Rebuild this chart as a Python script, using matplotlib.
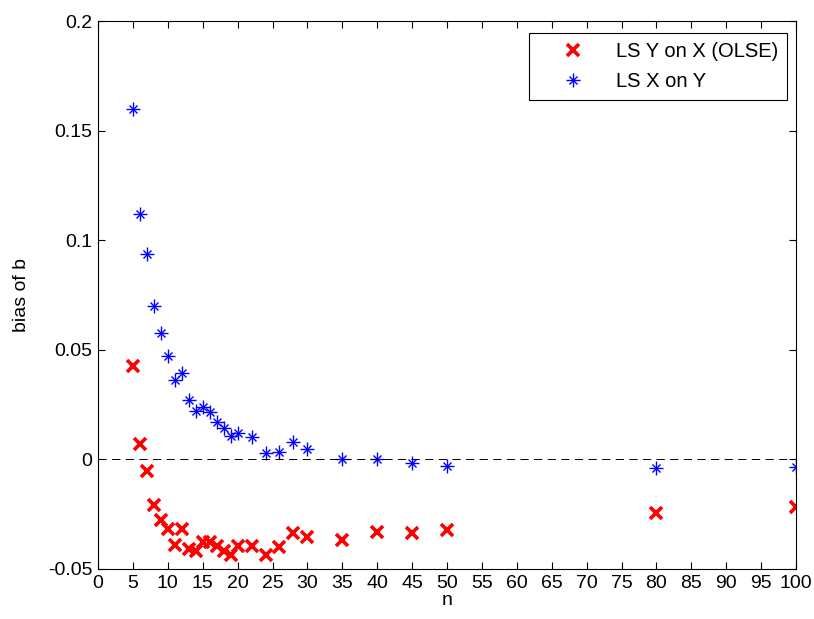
import matplotlib
matplotlib.use('Agg')
import matplotlib.pyplot as plt
from matplotlib.legend_handler import HandlerTuple
import numpy as np

plt.rcParams['font.family'] = ['Liberation Sans', 'DejaVu Sans']

# sample sizes and bias of the slope estimate
n = [5, 6, 7, 8, 9, 10, 11, 12, 13, 14, 15, 16, 17, 18, 19, 20,
     22, 24, 26, 28, 30, 35, 40, 45, 50, 80, 100]
bias_yx = [0.0425, 0.0071, -0.0053, -0.0208, -0.0278, -0.0316, -0.0390, -0.0316,
           -0.0410, -0.0420, -0.0379, -0.0375, -0.0395, -0.0420, -0.0435, -0.0395,
           -0.0395, -0.0435, -0.0401, -0.0337, -0.0352, -0.0367, -0.0329, -0.0338,
           -0.0323, -0.0245, -0.0218]
bias_xy = [0.1598, 0.1119, 0.0938, 0.0698, 0.0577, 0.0470, 0.0364, 0.0395,
           0.0270, 0.0223, 0.0240, 0.0215, 0.0171, 0.0144, 0.0109, 0.0121,
           0.0103, 0.0027, 0.0035, 0.0079, 0.0049, 0.0000, 0.0000, -0.0015,
           -0.0030, -0.0037, -0.0036]

fig = plt.figure(figsize=(8.14, 6.19), dpi=100)
ax = fig.add_axes([0.1204, 0.0808, 0.8575, 0.8852])

h1, = ax.plot(n, bias_yx, 'x', color='red', markersize=8, markeredgewidth=2.6,
              linestyle='none')
# asterisk marker: a plus with a smaller cross on top
h2a, = ax.plot(n, bias_xy, '+', color='blue', markersize=9.5, markeredgewidth=1.0,
               linestyle='none')
h2b, = ax.plot(n, bias_xy, 'x', color='blue', markersize=5.5, markeredgewidth=1.0,
               linestyle='none')

ax.plot([0, 100], [0, 0], '--', color='black', linewidth=0.7, dashes=(8.5, 5.5))

ax.set_xlim(0, 100)
ax.set_ylim(-0.05, 0.2)
ax.set_xticks(np.arange(0, 101, 5))
ax.set_yticks([-0.05, 0, 0.05, 0.1, 0.15, 0.2])
ax.set_yticklabels(['-0.05', '0', '0.05', '0.1', '0.15', '0.2'])
ax.tick_params(direction='in', top=True, right=True, length=5, labelsize=14, pad=4)
for s in ax.spines.values():
    s.set_linewidth(0.8)

ax.set_xlabel('n', fontsize=14, labelpad=0)
ax.set_ylabel('bias of b', fontsize=14, labelpad=13)

leg = ax.legend([h1, (h2a, h2b)], ['LS Y on X (OLSE)', 'LS X on Y'],
                handler_map={tuple: HandlerTuple(ndivide=1, pad=0)},
                loc='upper right', fontsize=14.5, fancybox=False, framealpha=1,
                edgecolor='black', borderpad=0.45, handlelength=3.5,
                handletextpad=0.35, labelspacing=0.55, borderaxespad=0,
                bbox_to_anchor=(0.987, 0.978))
leg.get_frame().set_linewidth(0.8)

fig.savefig('out.png', dpi=100)
